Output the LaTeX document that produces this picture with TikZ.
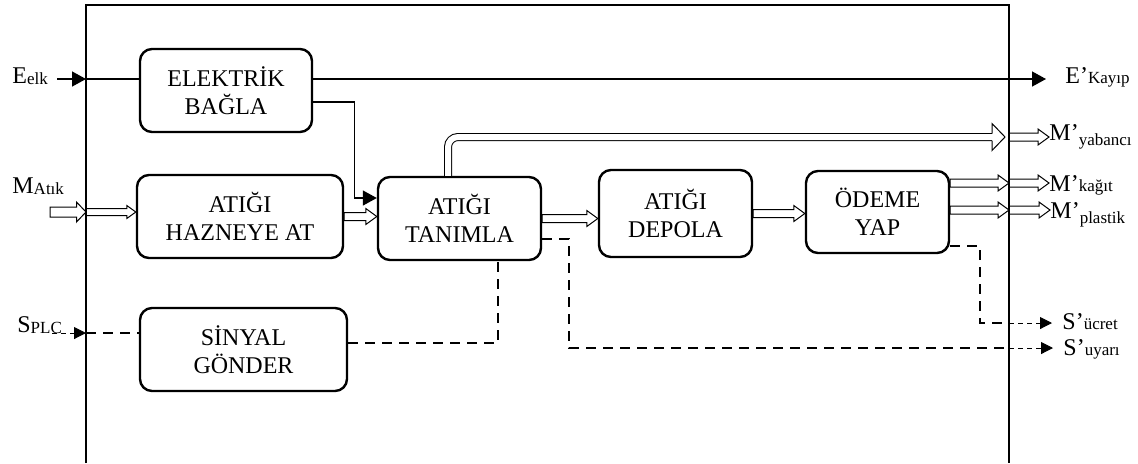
\documentclass[tikz,border=0pt]{standalone}
\usepackage{fontspec}
\setmainfont{Liberation Serif}
\usetikzlibrary{arrows.meta, positioning, calc}

\newcommand{\sbx}[2][0pt]{\raisebox{#1}{\fontsize{8.5}{9}\selectfont #2}}

\begin{document}
\begin{tikzpicture}[
  x=0.5pt, y=-0.5pt,
  font=\fontsize{12}{14}\selectfont,
  blk/.style={draw, line width=1.2pt, rounded corners=6pt, align=center,
              inner sep=0pt},
  lbl/.style={inner sep=0pt},
  frm/.style={line width=1.3pt},
  pw/.style={line width=0.7pt, -{Triangle[length=7pt, width=7.5pt]}},
  pwl/.style={line width=0.7pt},
  sg/.style={line width=1.1pt, dash pattern=on 5pt off 3.5pt},
  sgo/.style={line width=0.5pt, dash pattern=on 2.5pt off 2pt,
              -{Triangle[length=6pt, width=6pt]}},
  hollow/.style n args={3}{line width=0.5pt, to path={
      let \p1=(\tikztostart), \p2=(\tikztotarget) in
      (\x1,{\y1+#1}) -- ({\x2-#2},{\y1+#1}) -- ({\x2-#2},{\y1+#3})
      -- (\x2,\y1) -- ({\x2-#2},{\y1-#3}) -- ({\x2-#2},{\y1-#1})
      -- (\x1,{\y1-#1}) -- cycle}},
  mt/.style={hollow={2pt}{5.5pt}{4pt}},
  dbl/.style={double, double distance=3pt, line width=0.5pt},
  hd/.style={line width=0.5pt, fill=white, to path={
      let \p1=(\tikztostart), \p2=(\tikztotarget) in
      (\x1,{\y1+1.75pt}) -- (\x1,{\y1+#1}) -- (\x2,\y1)
      -- (\x1,{\y1-#1}) -- (\x1,{\y1-1.75pt})}}
]
\useasboundingbox (0,0) rectangle (1138,463);

% blocks
\node[blk, minimum width=86pt, minimum height=41.5pt] (elk) at (226,90.5) {ELEKTRİK\\BAĞLA};
\node[blk, minimum width=103pt, minimum height=41.5pt] (hazne) at (240,216.5) {ATIĞI\\HAZNEYE AT};
\node[blk, minimum width=81.5pt, minimum height=41.5pt] (tanim) at (459.5,218.5) {ATIĞI\\TANIMLA};
\node[blk, minimum width=76.5pt, minimum height=43.5pt] (depo) at (675.5,213.5) {ATIĞI\\DEPOLA};
\node[blk, minimum width=71.5pt, minimum height=41pt] (odeme) at (877.5,212) {ÖDEME\\YAP};
\node[blk, minimum width=103.5pt, minimum height=41.5pt] (sinyal) at (243.5,349.5) {SİNYAL\\GÖNDER};

% inputs and outputs
\node[lbl, anchor=base west] (Eelk) at (12,83) {E\sbx[-0.5pt]{elk}};
\node[lbl, anchor=base west] (Mat) at (12,193) {M\sbx[-0.5pt]{Atık}};
\node[lbl, anchor=base west] (Spl) at (17,332) {S\sbx[-0.5pt]{PLC}};
\node[lbl, anchor=base west] (Kay) at (1065,83) {E’\sbx{Kayıp}};
\node[lbl, anchor=base west] (Yab) at (1049,140) {M’\sbx[-2.5pt]{yabancı}};
\node[lbl, anchor=base west] (Kag) at (1049,191) {M’\sbx{kağıt}};
\node[lbl, anchor=base west] (Pla) at (1050,218) {M’\sbx[-2.5pt]{plastik}};
\node[lbl, anchor=base west] (Ucr) at (1062,329) {S’\sbx{ücret}};
\node[lbl, anchor=base west] (Uya) at (1063,355) {S’\sbx{uyarı}};

\coordinate (fE) at (86,79);
\coordinate (iM) at (50,212);
\coordinate (fM) at (86,212);
\coordinate (iS) at (52,333);
\coordinate (fS) at (86,333);
\coordinate (gY) at (1009,137);
\coordinate (gK) at (1009,183);
\coordinate (gP) at (1009,210);
\coordinate (gU) at (1009,323);
\coordinate (gW) at (1009,348);
\coordinate (hY) at (992,137);
\coordinate (tY) at (1005,137);

% system border
\draw[frm] (86,463) |- (1009,5) -- (1009,463);

% energy
\draw[pw, shorten <=4.5pt] (Eelk.east |- fE) -- (fE);
\draw[pwl] (fE) -- (elk.west |- fE);
\draw[pw, shorten >=9.5pt] (elk.east |- fE) -- (Kay.west |- fE);
\draw[pw] ([yshift=-5.75pt]elk.east) -- ++(20.5pt,0) |- ([yshift=10.25pt]tanim.west);

% material
\draw[hollow={2.5pt}{4.75pt}{5pt}] (iM) to (fM);
\draw[hollow={1.75pt}{4.5pt}{3.25pt}] (fM) to (hazne.west);
\draw[mt] (hazne.east) to (tanim.west);
\draw[mt] (tanim.east) to (depo.west);
\draw[mt] (depo.east) to (odeme.west);
\draw[dbl, rounded corners=5pt] ([xshift=-5.75pt]tanim.north) |- (hY);
\draw[hd=6.75pt] (hY) to (tY);
\draw[mt] (odeme.east |- gK) to (gK);
\draw[mt] (odeme.east |- gP) to (gP);
\draw[mt] (gY) to (Yab.west);
\draw[mt] (gK) to (Kag.west);
\draw[mt] (gP) to (Pla.west);

% signal
\draw[sgo] (iS) -- (fS);
\draw[sg] (fS) -- (sinyal.west |- fS);
\draw[sg] ([yshift=3.25pt]sinyal.east) -| ([xshift=19.25pt]tanim.south);
\draw[sg] ([yshift=-10.25pt]tanim.east) -- ++(13.5pt,0) |- (gW);
\draw[sg] ([yshift=-17pt]odeme.east) -- ++(15pt,0) |- (gU);
\draw[sgo, shorten >=5pt] (gU) -- (Ucr.west |- gU);
\draw[sgo, shorten >=5pt] (gW) -- (Uya.west |- gW);
\end{tikzpicture}
\end{document}
